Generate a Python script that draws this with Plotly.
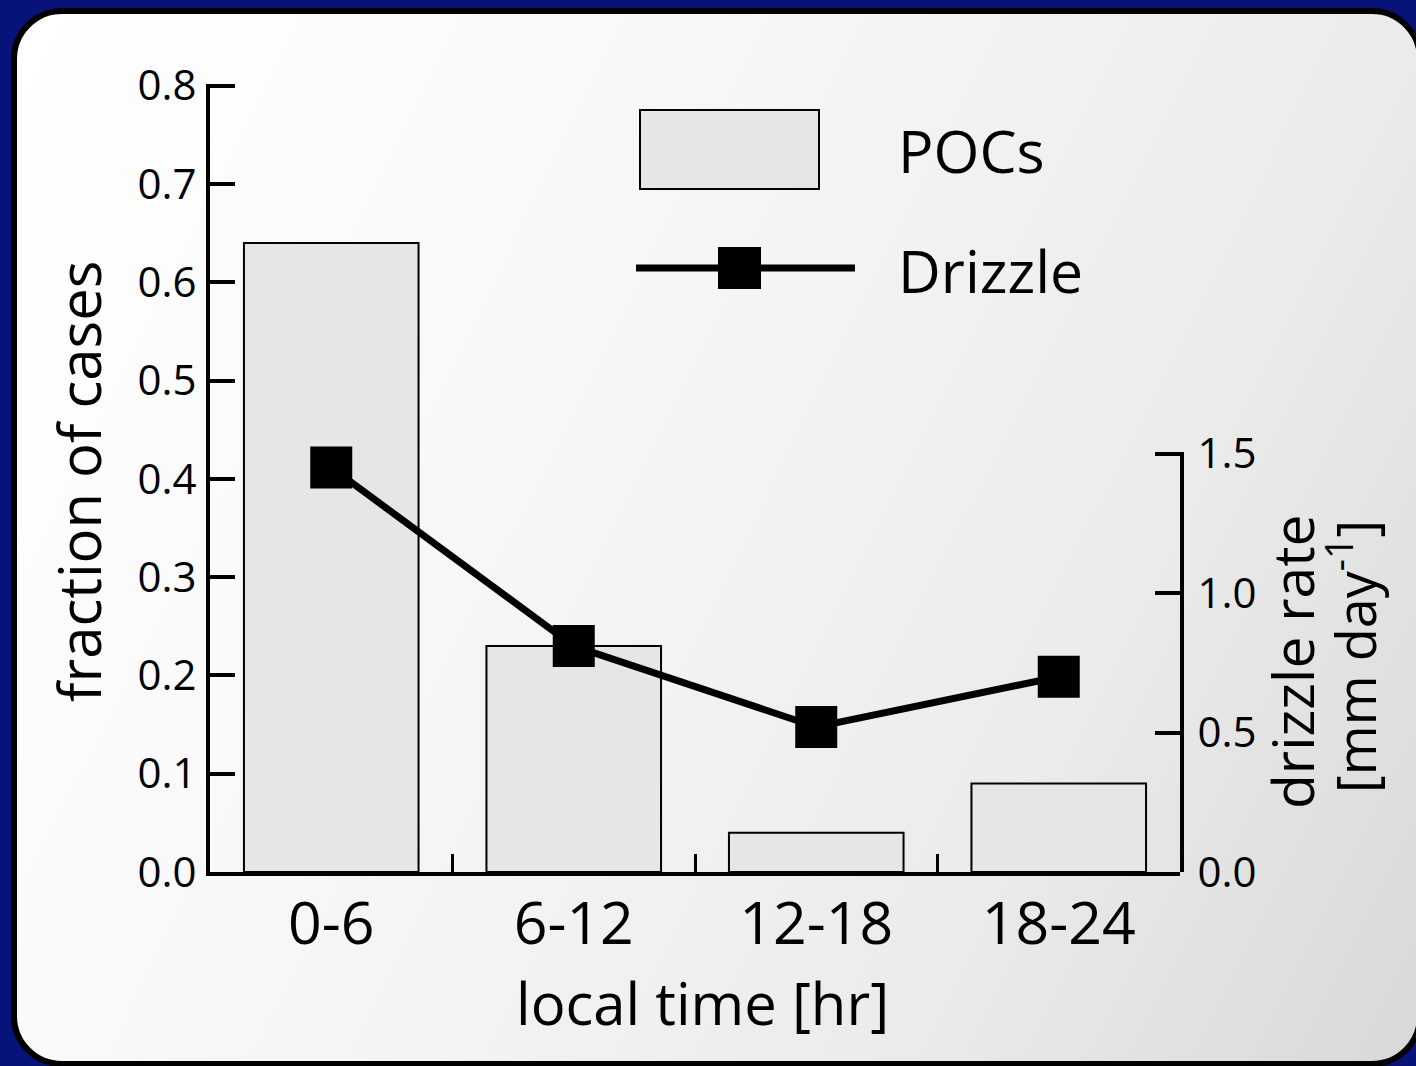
import base64
import plotly.graph_objects as go

# Local-time bins and observations
categories = ["0-6", "6-12", "12-18", "18-24"]
poc_fraction = [0.64, 0.23, 0.04, 0.09]
drizzle_rate = [1.45, 0.81, 0.52, 0.70]
left_ticks = [0.0, 0.1, 0.2, 0.3, 0.4, 0.5, 0.6, 0.7, 0.8]
right_ticks = [0.0, 0.5, 1.0, 1.5]

W, H = 1416, 1066
L, R, T, B = 210, 236, 84, 194
PW, PH = W - L - R, H - T - B
FONT = "Open Sans"


def px_x(x):
    return (x - L) / PW


def px_y(y):
    return (H - B - y) / PH


x_pos = [i + 0.5 for i in range(len(categories))]

# Rounded panel with a soft grey gradient on a blue page
svg = f"""<svg xmlns='http://www.w3.org/2000/svg' width='{W}' height='{H}' viewBox='0 0 {W} {H}'>
<defs><linearGradient id='g' gradientUnits='userSpaceOnUse' x1='0' y1='0' x2='1560' y2='780'>
<stop offset='0' stop-color='#ffffff'/><stop offset='0.27' stop-color='#fafafa'/>
<stop offset='0.5' stop-color='#f3f3f3'/><stop offset='0.73' stop-color='#ebebeb'/>
<stop offset='1' stop-color='#d8d8d8'/></linearGradient></defs>
<rect x='0' y='0' width='{W}' height='{H}' fill='#08137a'/>
<rect x='14' y='11' width='1406' height='1053' rx='48' ry='48' fill='url(#g)' stroke='#000' stroke-width='6'/>
</svg>"""
bg_src = "data:image/svg+xml;base64," + base64.b64encode(svg.encode()).decode()

fig = go.Figure()

fig.add_trace(go.Bar(
    x=x_pos, y=poc_fraction, width=0.72,
    marker=dict(color="#e6e6e6", line=dict(color="black", width=2)),
    showlegend=False, yaxis="y",
))
fig.add_trace(go.Scatter(
    x=x_pos, y=drizzle_rate, mode="lines+markers", yaxis="y2",
    line=dict(color="black", width=7),
    marker=dict(symbol="square", size=42, color="black"),
    cliponaxis=False, showlegend=False,
))

tickfont = dict(family=FONT, size=42, color="black")

# Ranges run a hair past the top tick so the inside tick at the end is kept
y_top = 0.8 * (1 + 1.6 / PH)
y2_len = 420
y2_top = 1.5 * (1 + 1.6 / (y2_len - 1.6))

fig.update_layout(
    width=W, height=H,
    margin=dict(l=L, r=R, t=T, b=B),
    paper_bgcolor="#08137a",
    plot_bgcolor="rgba(0,0,0,0)",
    images=[dict(source=bg_src, xref="paper", yref="paper",
                 x=px_x(0), y=px_y(0), sizex=W / PW, sizey=H / PH,
                 xanchor="left", yanchor="top", sizing="stretch", layer="below")],
    xaxis=dict(
        range=[0, 4], tickvals=x_pos, ticktext=categories, ticks="",
        tickfont=dict(family=FONT, size=59, color="black"),
        showline=True, linecolor="black", linewidth=4, showgrid=False,
        zeroline=False, ticklabelstandoff=-3,
        minor=dict(tickvals=[1, 2, 3], ticks="inside", ticklen=18,
                   tickwidth=3, tickcolor="black", showgrid=False),
    ),
    yaxis=dict(
        range=[0, y_top], tickvals=left_ticks,
        ticktext=[f"{v:.1f}" for v in left_ticks],
        ticks="inside", ticklen=25, tickwidth=4, tickcolor="black",
        tickfont=tickfont, showline=True, linecolor="black", linewidth=4,
        showgrid=False, zeroline=False, ticklabelstandoff=1,
    ),
    yaxis2=dict(
        range=[0, y2_top], domain=[0, y2_len / PH], anchor="x", side="right",
        tickvals=right_ticks, ticktext=[f"{v:.1f}" for v in right_ticks],
        ticks="inside", ticklen=25, tickwidth=4, tickcolor="black",
        tickfont=tickfont, showline=True, linecolor="black", linewidth=4,
        showgrid=False, zeroline=False, ticklabelstandoff=5,
    ),
    bargap=0.28,
)

# Axis titles
ann = []
ann.append(dict(text="local time [hr]", x=px_x(702), y=px_y(1002),
                xref="paper", yref="paper", showarrow=False,
                font=dict(family=FONT, size=58, color="black"),
                xanchor="center", yanchor="middle"))
ann.append(dict(text="fraction of cases", x=px_x(78), y=px_y(482),
                xref="paper", yref="paper", showarrow=False, textangle=-90,
                font=dict(family=FONT, size=58, color="black"),
                xanchor="center", yanchor="middle"))
ann.append(dict(text="drizzle rate", x=px_x(1292), y=px_y(662),
                xref="paper", yref="paper", showarrow=False, textangle=-90,
                font=dict(family=FONT, size=57, color="black"),
                xanchor="center", yanchor="middle"))
ann.append(dict(text="[mm day<sup>-1</sup>]", x=px_x(1352), y=px_y(657),
                xref="paper", yref="paper", showarrow=False, textangle=-90,
                font=dict(family=FONT, size=54, color="black"),
                xanchor="center", yanchor="middle"))

# Legend
ann.append(dict(text="POCs", x=px_x(896), y=px_y(150),
                xref="paper", yref="paper", showarrow=False,
                font=dict(family=FONT, size=59, color="black"),
                xanchor="left", yanchor="middle"))
ann.append(dict(text="Drizzle", x=px_x(896), y=px_y(270),
                xref="paper", yref="paper", showarrow=False,
                font=dict(family=FONT, size=59, color="black"),
                xanchor="left", yanchor="middle"))

shapes = [
    dict(type="rect", xref="paper", yref="paper",
         x0=px_x(640), x1=px_x(819), y0=px_y(189), y1=px_y(110),
         fillcolor="#e6e6e6", line=dict(color="black", width=2)),
    dict(type="line", xref="paper", yref="paper",
         x0=px_x(636), x1=px_x(855), y0=px_y(268), y1=px_y(268),
         line=dict(color="black", width=7)),
    dict(type="rect", xref="paper", yref="paper",
         x0=px_x(718), x1=px_x(761), y0=px_y(289), y1=px_y(247),
         fillcolor="black", line=dict(color="black", width=0)),
]

fig.update_layout(annotations=ann, shapes=shapes)

fig.write_html("out.html")
